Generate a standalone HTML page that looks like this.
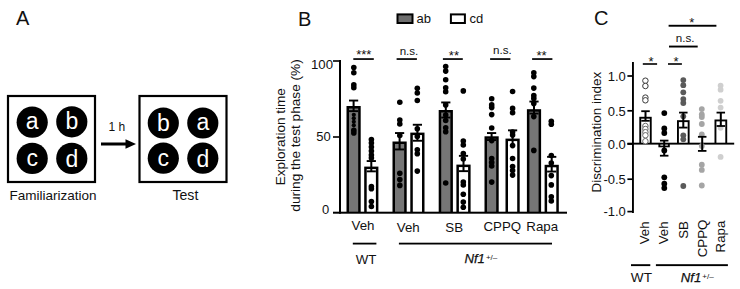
<!DOCTYPE html>
<html><head><meta charset="utf-8"><style>
html,body{margin:0;padding:0;background:#fff;width:740px;height:289px;overflow:hidden}
svg{display:block}
text{font-family:"Liberation Sans",sans-serif}
</style></head><body>
<svg width="740" height="289" viewBox="0 0 740 289" font-family="Liberation Sans, sans-serif">
<rect width="740" height="289" fill="#fff"/>
<text x="16" y="24.6" font-size="20" fill="#111">A</text>
<rect x="8" y="96" width="87" height="86" fill="none" stroke="#000" stroke-width="2.2"/>
<rect x="139.5" y="96" width="87" height="86" fill="none" stroke="#000" stroke-width="2.2"/>
<circle cx="32.2" cy="122.2" r="15.6" fill="#000"/>
<text x="32.2" y="128.8" font-size="23" fill="#fff" text-anchor="middle">a</text>
<circle cx="71.8" cy="121.8" r="15.6" fill="#000"/>
<text x="71.8" y="129.2" font-size="23" fill="#fff" text-anchor="middle">b</text>
<circle cx="32.2" cy="158.4" r="15.6" fill="#000"/>
<text x="32.2" y="166.20000000000002" font-size="23" fill="#fff" text-anchor="middle">c</text>
<circle cx="71.8" cy="158.4" r="15.6" fill="#000"/>
<text x="71.8" y="167.0" font-size="23" fill="#fff" text-anchor="middle">d</text>
<circle cx="163.3" cy="123" r="15.6" fill="#000"/>
<text x="163.3" y="131.2" font-size="23" fill="#fff" text-anchor="middle">b</text>
<circle cx="202.8" cy="123" r="15.6" fill="#000"/>
<text x="202.8" y="129.8" font-size="23" fill="#fff" text-anchor="middle">a</text>
<circle cx="163.3" cy="158.2" r="15.6" fill="#000"/>
<text x="163.3" y="166.1" font-size="23" fill="#fff" text-anchor="middle">c</text>
<circle cx="202.8" cy="158.2" r="15.6" fill="#000"/>
<text x="202.8" y="166.6" font-size="23" fill="#fff" text-anchor="middle">d</text>
<text x="53" y="200" font-size="13.5" fill="#111" text-anchor="middle">Familiarization</text>
<text x="185.4" y="199.9" font-size="14.1" fill="#111" text-anchor="middle">Test</text>
<text x="116.8" y="131.3" font-size="12" fill="#111" text-anchor="middle">1 h</text>
<rect x="101" y="142.5" width="26" height="3" fill="#000"/>
<polygon points="125.5,139.3 136,144 125.5,148.7" fill="#000"/>
<text x="298" y="25.6" font-size="20" fill="#111">B</text>
<rect x="397.5" y="14.4" width="15" height="8.6" fill="#6e6e6e" stroke="#000" stroke-width="2"/>
<text x="416.6" y="22.9" font-size="13" fill="#111">ab</text>
<rect x="450.9" y="14.4" width="14" height="8.6" fill="#fff" stroke="#000" stroke-width="2"/>
<text x="469.4" y="22.9" font-size="13" fill="#111">cd</text>
<text transform="translate(285,136.75) rotate(-90)" font-size="13.55" fill="#111" text-anchor="middle">Exploration time</text>
<text transform="translate(300.2,135.45) rotate(-90)" font-size="13.65" fill="#111" text-anchor="middle">during the test phase (%)</text>
<rect x="339" y="60" width="2" height="153.7" fill="#000"/>
<rect x="333" y="211.7" width="234" height="2" fill="#000"/>
<rect x="333" y="60.2" width="7" height="1.6" fill="#000"/>
<rect x="333" y="136.2" width="7" height="1.6" fill="#000"/>
<text x="333" y="68.6" font-size="13.2" fill="#111" text-anchor="end">100</text>
<text x="330.8" y="140.5" font-size="13" fill="#111" text-anchor="end">50</text>
<text x="329.3" y="214.3" font-size="13" fill="#111" text-anchor="end">0</text>
<rect x="346.5" y="106.0" width="14.2" height="106.69999999999999" fill="#000"/>
<rect x="349.0" y="108.5" width="9.2" height="103.19999999999999" fill="#767676"/>
<rect x="364.2" y="166.6" width="14.2" height="46.099999999999994" fill="#000"/>
<rect x="366.7" y="169.1" width="9.2" height="42.599999999999994" fill="#fff"/>
<rect x="392.5" y="141.5" width="14.2" height="71.19999999999999" fill="#000"/>
<rect x="395.0" y="144.0" width="9.2" height="67.69999999999999" fill="#767676"/>
<rect x="410.3" y="132.6" width="14.2" height="80.1" fill="#000"/>
<rect x="412.8" y="135.1" width="9.2" height="76.6" fill="#fff"/>
<rect x="438.7" y="110.0" width="14.2" height="102.69999999999999" fill="#000"/>
<rect x="441.2" y="112.5" width="9.2" height="99.19999999999999" fill="#767676"/>
<rect x="456.4" y="164.6" width="14.2" height="48.099999999999994" fill="#000"/>
<rect x="458.9" y="167.1" width="9.2" height="44.599999999999994" fill="#fff"/>
<rect x="484.5" y="136.3" width="14.2" height="76.39999999999998" fill="#000"/>
<rect x="487.0" y="138.8" width="9.2" height="72.89999999999998" fill="#767676"/>
<rect x="505.5" y="138.6" width="14.2" height="74.1" fill="#000"/>
<rect x="508.0" y="141.1" width="9.2" height="70.6" fill="#fff"/>
<rect x="526.9" y="109.2" width="14.2" height="103.49999999999999" fill="#000"/>
<rect x="529.4" y="111.7" width="9.2" height="99.99999999999999" fill="#767676"/>
<rect x="544.6" y="164.8" width="14.2" height="47.89999999999998" fill="#000"/>
<rect x="547.1" y="167.3" width="9.2" height="44.39999999999998" fill="#fff"/>
<rect x="352.6" y="100.5" width="2" height="10.599999999999994" fill="#000"/>
<rect x="349.0" y="99.6" width="9.2" height="1.9" fill="#000"/>
<rect x="349.0" y="110.19999999999999" width="9.2" height="1.9" fill="#000"/>
<circle cx="353.8" cy="67.6" r="2.8" fill="#000"/>
<circle cx="353.8" cy="72.7" r="2.8" fill="#000"/>
<circle cx="353.8" cy="84.9" r="2.8" fill="#000"/>
<circle cx="353.8" cy="87.7" r="2.8" fill="#000"/>
<circle cx="353.8" cy="114.8" r="2.1" fill="#000"/>
<circle cx="353.8" cy="118.3" r="2.1" fill="#000"/>
<circle cx="353.8" cy="121.8" r="2.1" fill="#000"/>
<circle cx="353.8" cy="125.3" r="2.1" fill="#000"/>
<circle cx="353.8" cy="130.2" r="2.8" fill="#000"/>
<circle cx="353.8" cy="132.9" r="2.8" fill="#000"/>
<rect x="370.3" y="161.0" width="2" height="10.300000000000011" fill="#000"/>
<rect x="366.7" y="160.1" width="9.2" height="1.9" fill="#000"/>
<rect x="366.7" y="170.4" width="9.2" height="1.9" fill="#000"/>
<circle cx="371.4" cy="139.5" r="2.8" fill="#000"/>
<circle cx="371.4" cy="143" r="2.8" fill="#000"/>
<circle cx="371.4" cy="147" r="2.8" fill="#000"/>
<circle cx="371.4" cy="151" r="2.8" fill="#000"/>
<circle cx="371.4" cy="155" r="2.8" fill="#000"/>
<circle cx="371.4" cy="158" r="2.8" fill="#000"/>
<circle cx="371.4" cy="186.6" r="2.8" fill="#000"/>
<circle cx="371.4" cy="188.8" r="2.8" fill="#000"/>
<circle cx="371.4" cy="201.6" r="2.8" fill="#000"/>
<circle cx="371.4" cy="206.5" r="2.8" fill="#000"/>
<rect x="398.6" y="133.0" width="2" height="16.400000000000006" fill="#000"/>
<rect x="395.0" y="132.1" width="9.2" height="1.9" fill="#000"/>
<rect x="395.0" y="148.5" width="9.2" height="1.9" fill="#000"/>
<circle cx="399.8" cy="102.2" r="2.8" fill="#000"/>
<circle cx="399.8" cy="120" r="2.8" fill="#000"/>
<circle cx="399.8" cy="124" r="2.8" fill="#000"/>
<circle cx="399.8" cy="135.5" r="2.8" fill="#000"/>
<circle cx="399.8" cy="173.2" r="2.8" fill="#000"/>
<circle cx="399.8" cy="179.6" r="2.8" fill="#000"/>
<circle cx="399.8" cy="185.4" r="2.8" fill="#000"/>
<rect x="416.40000000000003" y="124.7" width="2" height="15.999999999999986" fill="#000"/>
<rect x="412.8" y="123.8" width="9.2" height="1.9" fill="#000"/>
<rect x="412.8" y="139.79999999999998" width="9.2" height="1.9" fill="#000"/>
<circle cx="417.3" cy="88.3" r="2.8" fill="#000"/>
<circle cx="417.3" cy="93" r="2.8" fill="#000"/>
<circle cx="417.3" cy="100.5" r="2.8" fill="#000"/>
<circle cx="417.3" cy="128.8" r="2.8" fill="#000"/>
<circle cx="417.3" cy="136.5" r="2.8" fill="#000"/>
<circle cx="417.3" cy="149.7" r="2.8" fill="#000"/>
<circle cx="417.3" cy="153.8" r="2.8" fill="#000"/>
<circle cx="417.3" cy="171.1" r="2.8" fill="#000"/>
<rect x="444.8" y="102.4" width="2" height="15.099999999999994" fill="#000"/>
<rect x="441.2" y="101.5" width="9.2" height="1.9" fill="#000"/>
<rect x="441.2" y="116.6" width="9.2" height="1.9" fill="#000"/>
<circle cx="445.7" cy="66.5" r="2.8" fill="#000"/>
<circle cx="445.7" cy="71.1" r="2.8" fill="#000"/>
<circle cx="445.7" cy="79.7" r="2.8" fill="#000"/>
<circle cx="445.7" cy="87.8" r="2.8" fill="#000"/>
<circle cx="445.7" cy="91.7" r="2.8" fill="#000"/>
<circle cx="445.7" cy="104.9" r="2.8" fill="#000"/>
<circle cx="445.7" cy="115" r="2.8" fill="#000"/>
<circle cx="445.7" cy="120.5" r="2.8" fill="#000"/>
<circle cx="445.7" cy="127.8" r="2.8" fill="#000"/>
<circle cx="445.7" cy="131.7" r="2.8" fill="#000"/>
<circle cx="445.7" cy="183" r="2.8" fill="#000"/>
<rect x="462.5" y="155.8" width="2" height="15.299999999999983" fill="#000"/>
<rect x="458.9" y="154.9" width="9.2" height="1.9" fill="#000"/>
<rect x="458.9" y="170.2" width="9.2" height="1.9" fill="#000"/>
<circle cx="463.3" cy="90.9" r="2.8" fill="#000"/>
<circle cx="463.3" cy="141" r="2.8" fill="#000"/>
<circle cx="463.3" cy="145" r="2.8" fill="#000"/>
<circle cx="463.3" cy="153.5" r="2.8" fill="#000"/>
<circle cx="463.3" cy="159" r="2.8" fill="#000"/>
<circle cx="463.3" cy="182" r="2.8" fill="#000"/>
<circle cx="463.3" cy="185" r="2.8" fill="#000"/>
<circle cx="463.3" cy="194.3" r="2.8" fill="#000"/>
<circle cx="463.3" cy="202.1" r="2.8" fill="#000"/>
<circle cx="463.3" cy="207.3" r="2.8" fill="#000"/>
<rect x="490.6" y="133.0" width="2" height="7.0" fill="#000"/>
<rect x="487.0" y="132.1" width="9.2" height="1.9" fill="#000"/>
<rect x="487.0" y="139.1" width="9.2" height="1.9" fill="#000"/>
<circle cx="491.7" cy="98.7" r="2.8" fill="#000"/>
<circle cx="491.7" cy="104.9" r="2.8" fill="#000"/>
<circle cx="491.7" cy="107.6" r="2.8" fill="#000"/>
<circle cx="491.7" cy="114.6" r="2.8" fill="#000"/>
<circle cx="491.7" cy="128" r="2.8" fill="#000"/>
<circle cx="491.7" cy="140.6" r="2.8" fill="#000"/>
<circle cx="491.7" cy="158.5" r="2.8" fill="#000"/>
<circle cx="491.7" cy="162.4" r="2.8" fill="#000"/>
<circle cx="491.7" cy="166" r="2.8" fill="#000"/>
<circle cx="491.7" cy="182.1" r="2.8" fill="#000"/>
<rect x="511.6" y="130.3" width="2" height="15.299999999999983" fill="#000"/>
<rect x="508.0" y="129.4" width="9.2" height="1.9" fill="#000"/>
<circle cx="512.6" cy="91.5" r="2.8" fill="#000"/>
<circle cx="512.6" cy="108.4" r="2.8" fill="#000"/>
<circle cx="512.6" cy="112.7" r="2.8" fill="#000"/>
<circle cx="512.6" cy="132" r="2.8" fill="#000"/>
<circle cx="512.6" cy="135.1" r="2.8" fill="#000"/>
<circle cx="512.6" cy="145.6" r="2.8" fill="#000"/>
<circle cx="512.6" cy="158.5" r="2.8" fill="#000"/>
<circle cx="512.6" cy="166.5" r="2.8" fill="#000"/>
<circle cx="512.6" cy="170.5" r="2.8" fill="#000"/>
<circle cx="512.6" cy="175.1" r="2.8" fill="#000"/>
<rect x="533.0" y="101.5" width="2" height="12.0" fill="#000"/>
<rect x="529.4" y="100.6" width="9.2" height="1.9" fill="#000"/>
<rect x="529.4" y="112.6" width="9.2" height="1.9" fill="#000"/>
<circle cx="533.8" cy="72.7" r="2.8" fill="#000"/>
<circle cx="533.8" cy="76.6" r="2.8" fill="#000"/>
<circle cx="533.8" cy="88.1" r="2.8" fill="#000"/>
<circle cx="533.8" cy="95.6" r="2.8" fill="#000"/>
<circle cx="533.8" cy="98.4" r="2.8" fill="#000"/>
<circle cx="533.8" cy="103.4" r="2.8" fill="#000"/>
<circle cx="533.8" cy="116.6" r="2.8" fill="#000"/>
<circle cx="533.8" cy="150.4" r="2.8" fill="#000"/>
<rect x="550.7" y="156.8" width="2" height="14.699999999999989" fill="#000"/>
<rect x="547.1" y="155.9" width="9.2" height="1.9" fill="#000"/>
<rect x="547.1" y="170.6" width="9.2" height="1.9" fill="#000"/>
<circle cx="551.3" cy="121.3" r="2.8" fill="#000"/>
<circle cx="551.3" cy="124.3" r="2.8" fill="#000"/>
<circle cx="551.3" cy="155.5" r="2.8" fill="#000"/>
<circle cx="551.3" cy="163" r="2.8" fill="#000"/>
<circle cx="551.3" cy="175.6" r="2.8" fill="#000"/>
<circle cx="551.3" cy="184.9" r="2.8" fill="#000"/>
<circle cx="551.3" cy="196.8" r="2.8" fill="#000"/>
<circle cx="551.3" cy="201" r="2.8" fill="#000"/>
<rect x="353.3" y="58.2" width="20.5" height="1.7" fill="#000"/>
<rect x="396.6" y="58.2" width="20.299999999999955" height="1.7" fill="#000"/>
<rect x="442.9" y="58.2" width="19.900000000000034" height="1.7" fill="#000"/>
<rect x="490.1" y="58.2" width="20.299999999999955" height="1.7" fill="#000"/>
<rect x="532.1" y="58.2" width="20.299999999999955" height="1.7" fill="#000"/>
<text x="363.8" y="59.4" font-size="13" fill="#111" text-anchor="middle">***</text>
<text x="453.9" y="59.6" font-size="13" fill="#111" text-anchor="middle">**</text>
<text x="541.6" y="59.6" font-size="13" fill="#111" text-anchor="middle">**</text>
<text x="409" y="55" font-size="11.6" fill="#111" text-anchor="middle">n.s.</text>
<text x="502.4" y="54" font-size="11.6" fill="#111" text-anchor="middle">n.s.</text>
<text x="363" y="230.2" font-size="13.3" fill="#111" text-anchor="middle">Veh</text>
<text x="408.3" y="231.8" font-size="13.3" fill="#111" text-anchor="middle">Veh</text>
<text x="454.2" y="232.2" font-size="13.3" fill="#111" text-anchor="middle">SB</text>
<text x="502.3" y="230.6" font-size="13.3" fill="#111" text-anchor="middle">CPPQ</text>
<text x="542.2" y="230.8" font-size="13.3" fill="#111" text-anchor="middle">Rapa</text>
<rect x="352.8" y="242.7" width="23.6" height="1.8" fill="#000"/>
<rect x="398.9" y="242.7" width="153.1" height="1.8" fill="#000"/>
<text x="366.1" y="263.8" font-size="13.3" fill="#111" text-anchor="middle">WT</text>
<text x="464.4" y="263.3" font-size="13.2" font-style="italic" fill="#111" stroke="#111" stroke-width="0.25">Nf1<tspan font-size="8" dx="1.0" dy="-3.3" font-style="normal" stroke-width="0">+/&#8211;</tspan></text>
<text x="594" y="25" font-size="20" fill="#111">C</text>
<text transform="translate(600.9,132.15) rotate(-90)" font-size="13.5" fill="#111" text-anchor="middle">Discrimination index</text>
<rect x="632" y="62" width="1.9" height="151" fill="#000"/>
<rect x="627.4" y="75.15" width="5.5" height="1.7" fill="#000"/>
<text x="625.8" y="80.7" font-size="13" fill="#111" text-anchor="end">1.0</text>
<rect x="627.4" y="109.95" width="5.5" height="1.7" fill="#000"/>
<text x="625.8" y="115.5" font-size="13" fill="#111" text-anchor="end">0.5</text>
<rect x="627.4" y="143.15" width="5.5" height="1.7" fill="#000"/>
<text x="625.8" y="148.7" font-size="13" fill="#111" text-anchor="end">0.0</text>
<rect x="627.4" y="178.35" width="5.5" height="1.7" fill="#000"/>
<text x="625.8" y="183.89999999999998" font-size="13" fill="#111" text-anchor="end">-0.5</text>
<rect x="627.4" y="210.75" width="5.5" height="1.7" fill="#000"/>
<text x="625.8" y="216.29999999999998" font-size="13" fill="#111" text-anchor="end">-1.0</text>
<rect x="627.4" y="142.7" width="106.8" height="1.9" fill="#000"/>
<rect x="639.3" y="116.8" width="12.400000000000091" height="27.200000000000003" fill="#000"/>
<rect x="641.1999999999999" y="118.7" width="8.60000000000009" height="23.999999999999993" fill="#fff"/>
<rect x="677.0" y="120.2" width="12.600000000000023" height="23.799999999999997" fill="#000"/>
<rect x="678.9" y="122.10000000000001" width="8.800000000000022" height="20.599999999999987" fill="#fff"/>
<rect x="714.5" y="119.5" width="12.700000000000045" height="24.5" fill="#000"/>
<rect x="716.4" y="121.4" width="8.900000000000045" height="21.29999999999999" fill="#fff"/>
<rect x="658.4" y="143" width="11.4" height="4.3" fill="#000"/>
<rect x="660.3" y="144.6" width="7.6" height="1" fill="#fff"/>
<circle cx="664.3" cy="113.1" r="2.9" fill="#000"/>
<circle cx="664.3" cy="128.5" r="2.9" fill="#000"/>
<circle cx="664.3" cy="133" r="2.9" fill="#000"/>
<circle cx="664.3" cy="150.5" r="2.9" fill="#000"/>
<circle cx="664.3" cy="177.3" r="2.9" fill="#000"/>
<circle cx="664.3" cy="183.7" r="2.9" fill="#000"/>
<circle cx="664.3" cy="188.1" r="2.9" fill="#000"/>
<circle cx="683.3" cy="80.1" r="2.9" fill="#5a5a5a"/>
<circle cx="683.3" cy="85.2" r="2.9" fill="#5a5a5a"/>
<circle cx="683.3" cy="92.3" r="2.9" fill="#5a5a5a"/>
<circle cx="683.3" cy="99.1" r="2.9" fill="#5a5a5a"/>
<circle cx="683.3" cy="103" r="2.9" fill="#5a5a5a"/>
<circle cx="683.3" cy="116.3" r="2.9" fill="#5a5a5a"/>
<circle cx="683.3" cy="135.3" r="2.9" fill="#5a5a5a"/>
<circle cx="683.3" cy="139.3" r="2.9" fill="#5a5a5a"/>
<circle cx="683.3" cy="186" r="2.9" fill="#5a5a5a"/>
<circle cx="701.8" cy="109.1" r="2.9" fill="#a5a5a5"/>
<circle cx="701.8" cy="114.5" r="2.9" fill="#a5a5a5"/>
<circle cx="701.8" cy="117" r="2.9" fill="#a5a5a5"/>
<circle cx="701.8" cy="124" r="2.9" fill="#a5a5a5"/>
<circle cx="701.8" cy="134.5" r="2.9" fill="#a5a5a5"/>
<circle cx="701.8" cy="146" r="2.9" fill="#a5a5a5"/>
<circle cx="701.8" cy="164.7" r="2.9" fill="#a5a5a5"/>
<circle cx="701.8" cy="169.9" r="2.9" fill="#a5a5a5"/>
<circle cx="701.8" cy="185.5" r="2.9" fill="#a5a5a5"/>
<circle cx="720.6" cy="85.6" r="2.9" fill="#cfcfcf"/>
<circle cx="720.6" cy="89.7" r="2.9" fill="#cfcfcf"/>
<circle cx="720.6" cy="100.8" r="2.9" fill="#cfcfcf"/>
<circle cx="720.6" cy="107.6" r="2.9" fill="#cfcfcf"/>
<circle cx="720.6" cy="127.8" r="2.9" fill="#cfcfcf"/>
<circle cx="720.6" cy="156.9" r="2.9" fill="#cfcfcf"/>
<rect x="644.5" y="111.2" width="2" height="9.599999999999994" fill="#000"/>
<rect x="641.25" y="110.3" width="8.5" height="1.8" fill="#000"/>
<rect x="641.25" y="119.89999999999999" width="8.5" height="1.8" fill="#000"/>
<rect x="682.3" y="112.6" width="2" height="15.0" fill="#000"/>
<rect x="679.05" y="111.69999999999999" width="8.5" height="1.8" fill="#000"/>
<rect x="679.05" y="126.69999999999999" width="8.5" height="1.8" fill="#000"/>
<rect x="719.8" y="112.6" width="2" height="13.400000000000006" fill="#000"/>
<rect x="716.55" y="111.69999999999999" width="8.5" height="1.8" fill="#000"/>
<rect x="716.55" y="125.1" width="8.5" height="1.8" fill="#000"/>
<rect x="663.2" y="140.6" width="2" height="15.099999999999994" fill="#000"/>
<rect x="659.95" y="139.7" width="8.5" height="1.8" fill="#000"/>
<rect x="659.95" y="154.79999999999998" width="8.5" height="1.8" fill="#000"/>
<rect x="701.2" y="136.8" width="2" height="14.099999999999994" fill="#000"/>
<rect x="697.95" y="135.9" width="8.5" height="1.8" fill="#000"/>
<rect x="697.95" y="150.0" width="8.5" height="1.8" fill="#000"/>
<circle cx="645.4" cy="80.7" r="2.75" fill="#fff" stroke="#3a3a3a" stroke-width="1"/>
<circle cx="645.4" cy="86" r="2.75" fill="#fff" stroke="#3a3a3a" stroke-width="1"/>
<circle cx="645.4" cy="97.6" r="2.75" fill="#fff" stroke="#3a3a3a" stroke-width="1"/>
<circle cx="645.4" cy="100.3" r="2.75" fill="#fff" stroke="#3a3a3a" stroke-width="1"/>
<circle cx="645.4" cy="126" r="2.75" fill="#fff" stroke="#666" stroke-width="1"/>
<circle cx="645.4" cy="129" r="2.75" fill="#fff" stroke="#666" stroke-width="1"/>
<circle cx="645.4" cy="132.2" r="2.75" fill="#fff" stroke="#666" stroke-width="1"/>
<circle cx="645.4" cy="135.3" r="2.75" fill="#fff" stroke="#666" stroke-width="1"/>
<circle cx="645.4" cy="141.2" r="2.75" fill="#fff" stroke="#666" stroke-width="1"/>
<rect x="642.8" y="63.2" width="14.3" height="1.6" fill="#000"/>
<rect x="668" y="63.2" width="13.9" height="1.6" fill="#000"/>
<rect x="669" y="45.6" width="28.7" height="1.9" fill="#000"/>
<rect x="668.6" y="24.8" width="47.8" height="1.9" fill="#000"/>
<text x="651.1" y="66.1" font-size="13" fill="#111" text-anchor="middle">*</text>
<text x="676" y="66.1" font-size="13" fill="#111" text-anchor="middle">*</text>
<text x="691.7" y="26.6" font-size="13" fill="#111" text-anchor="middle">*</text>
<text x="685.1" y="42" font-size="11.6" fill="#111" text-anchor="middle">n.s.</text>
<text transform="translate(648.5,221.4) rotate(-90)" font-size="13.3" fill="#111" text-anchor="end">Veh</text>
<text transform="translate(667.5,221.4) rotate(-90)" font-size="13.3" fill="#111" text-anchor="end">Veh</text>
<text transform="translate(687.8,221.0) rotate(-90)" font-size="13.3" fill="#111" text-anchor="end">SB</text>
<text transform="translate(706.6,219.6) rotate(-90)" font-size="13.3" fill="#111" text-anchor="end">CPPQ</text>
<text transform="translate(725.2,220.6) rotate(-90)" font-size="13.3" fill="#111" text-anchor="end">Rapa</text>
<rect x="631" y="264.2" width="19.3" height="1.9" fill="#000"/>
<rect x="655.9" y="264.2" width="72" height="1.9" fill="#000"/>
<text x="641.4" y="281.5" font-size="13.6" fill="#111" text-anchor="middle">WT</text>
<text x="680.8" y="281.8" font-size="13.2" font-style="italic" fill="#111" stroke="#111" stroke-width="0.25">Nf1<tspan font-size="8" dx="1.0" dy="-3.3" font-style="normal" stroke-width="0">+/&#8211;</tspan></text>
</svg>
</body></html>
